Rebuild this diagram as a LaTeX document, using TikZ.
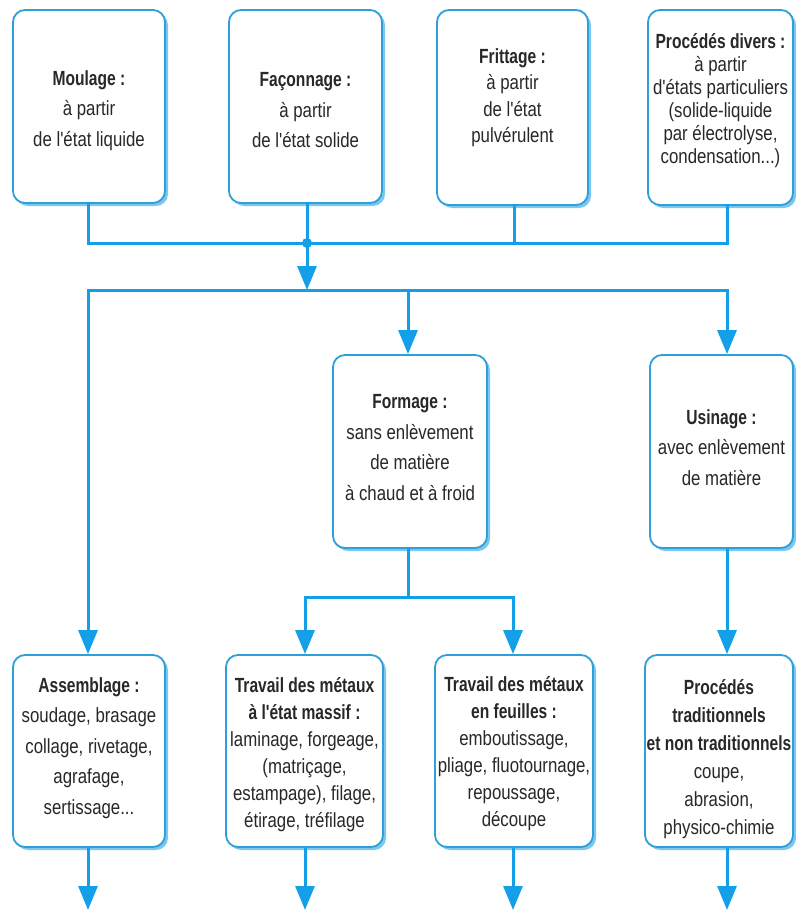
\documentclass[tikz,border=0pt]{standalone}
\usepackage{fontspec}
\newfontfamily\boxfont{Liberation Sans}[FakeStretch=0.82, BoldFeatures={FakeStretch=0.76}]
\usetikzlibrary{shadows,arrows.meta,calc}
\definecolor{lineblue}{RGB}{20,160,232}
\definecolor{boxblue}{RGB}{45,160,218}
\definecolor{shadowblue}{RGB}{125,198,238}
\definecolor{txt}{RGB}{40,40,40}
\begin{document}
\begin{tikzpicture}[x=1pt,y=-1pt,
 box/.style={draw=boxblue, line width=1.8pt, rounded corners=12pt, fill=white, inner sep=0pt,
   drop shadow={shadow xshift=3pt, shadow yshift=-3pt, fill=shadowblue, opacity=1}},
 lbl/.style={align=center, text=txt, inner sep=0pt, font=\boxfont\fontsize{20.5}{30.5}\selectfont},
 tight/.style={lbl, font=\boxfont\fontsize{20.5}{26.5}\selectfont},
 tighter/.style={lbl, font=\boxfont\fontsize{20.5}{23}\selectfont},
 mid/.style={lbl, font=\boxfont\fontsize{20.5}{27}\selectfont},
 mid2/.style={lbl, font=\boxfont\fontsize{20.5}{28}\selectfont},
 wire/.style={draw=lineblue, line width=3pt, line cap=rect},
 arr/.style={draw=lineblue, line width=3pt, -{Triangle[width=19pt,length=24pt]}},
]
\useasboundingbox (0,0) rectangle (795,910);

% top row
\node[box, minimum width=152pt, minimum height=193pt,
  label={[lbl, yshift=-4pt]center:{\textbf{Moulage :}\\à partir\\de l'état liquide}}] (mou) at (89,106.5) {};
\node[box, minimum width=153pt, minimum height=193pt,
  label={[lbl, yshift=-4pt]center:{\textbf{Façonnage :}\\à partir\\de l'état solide}}] (fac) at (305.5,106.5) {};
\node[box, minimum width=151pt, minimum height=195pt,
  label={[tight, yshift=10pt]center:{\textbf{Frittage :}\\à partir\\de l'état\\pulvérulent}}] (fri) at (512.5,107.5) {};
\node[box, minimum width=145pt, minimum height=195pt,
  label={[tighter, yshift=7pt]center:{\textbf{Procédés divers :}\\à partir\\d'états particuliers\\(solide-liquide\\par électrolyse,\\condensation...)}}] (pd) at (720.5,107.5) {};

% middle row
\node[box, minimum width=154pt, minimum height=193pt,
  label={[lbl, yshift=4pt]center:{\textbf{Formage :}\\sans enlèvement\\de matière\\à chaud et à froid}}] (for) at (410,451.5) {};
\node[box, minimum width=143pt, minimum height=193pt,
  label={[lbl, yshift=4pt]center:{\textbf{Usinage :}\\avec enlèvement\\de matière}}] (usi) at (721.5,451.5) {};

% bottom row
\node[box, minimum width=152pt, minimum height=192pt,
  label={[lbl, yshift=3pt]center:{\textbf{Assemblage :}\\soudage, brasage\\collage, rivetage,\\agrafage,\\sertissage...}}] (asm) at (89,751) {};
\node[box, minimum width=157pt, minimum height=192pt,
  label={[mid, yshift=-4pt]center:{\textbf{Travail des métaux}\\\textbf{à l'état massif :}\\laminage, forgeage,\\(matriçage,\\estampage), filage,\\étirage, tréfilage}}] (mas) at (304.5,751) {};
\node[box, minimum width=158pt, minimum height=192pt,
  label={[mid, yshift=-3pt]center:{\textbf{Travail des métaux}\\\textbf{en feuilles :}\\emboutissage,\\pliage, fluotournage,\\repoussage,\\découpe}}] (feu) at (514,751) {};
\node[box, minimum width=148pt, minimum height=192pt,
  label={[mid2, yshift=-8pt]center:{\textbf{Procédés}\\\textbf{traditionnels}\\\textbf{et non traditionnels}\\coupe,\\abrasion,\\physico-chimie}}] (pt) at (719,751) {};

% first bus
\coordinate (busL) at (88,243);
\coordinate (j1) at (307,243);
\coordinate (jf) at (514,243);
\coordinate (busR) at (727,243);
\draw[wire] (mou.south -| busL) -- (busL) -- (busR) -- (pd.south -| busR);
\draw[wire] (fac.south -| j1) -- (j1);
\draw[wire] (fri.south -| jf) -- (jf);
\fill[lineblue] (j1) circle (5);

% second bus
\coordinate (d1) at (307,290);
\coordinate (b2L) at (88,290);
\coordinate (b2F) at (408,290);
\coordinate (b2R) at (727,290);
\draw[arr] (j1) -- (d1);
\draw[wire] (b2L) -- (b2R);
\draw[arr] (b2L) -- (asm.north -| b2L);
\draw[arr] (b2F) -- (for.north -| b2F);
\draw[arr] (b2R) -- (usi.north -| b2R);

% formage split
\coordinate (b3) at (408,597);
\coordinate (b3L) at (305,597);
\coordinate (b3R) at (513,597);
\draw[wire] (for.south -| b3) -- (b3);
\draw[wire] (b3L) -- (b3R);
\draw[arr] (b3L) -- (mas.north -| b3L);
\draw[arr] (b3R) -- (feu.north -| b3R);
\draw[arr] (usi.south -| b2R) -- (pt.north -| b2R);

% outgoing arrows
\coordinate (e1) at (88,910);
\coordinate (e2) at (305,910);
\coordinate (e3) at (513,910);
\coordinate (e4) at (727,910);
\draw[arr] (asm.south -| e1) -- (e1);
\draw[arr] (mas.south -| e2) -- (e2);
\draw[arr] (feu.south -| e3) -- (e3);
\draw[arr] (pt.south -| e4) -- (e4);
\end{tikzpicture}
\end{document}
